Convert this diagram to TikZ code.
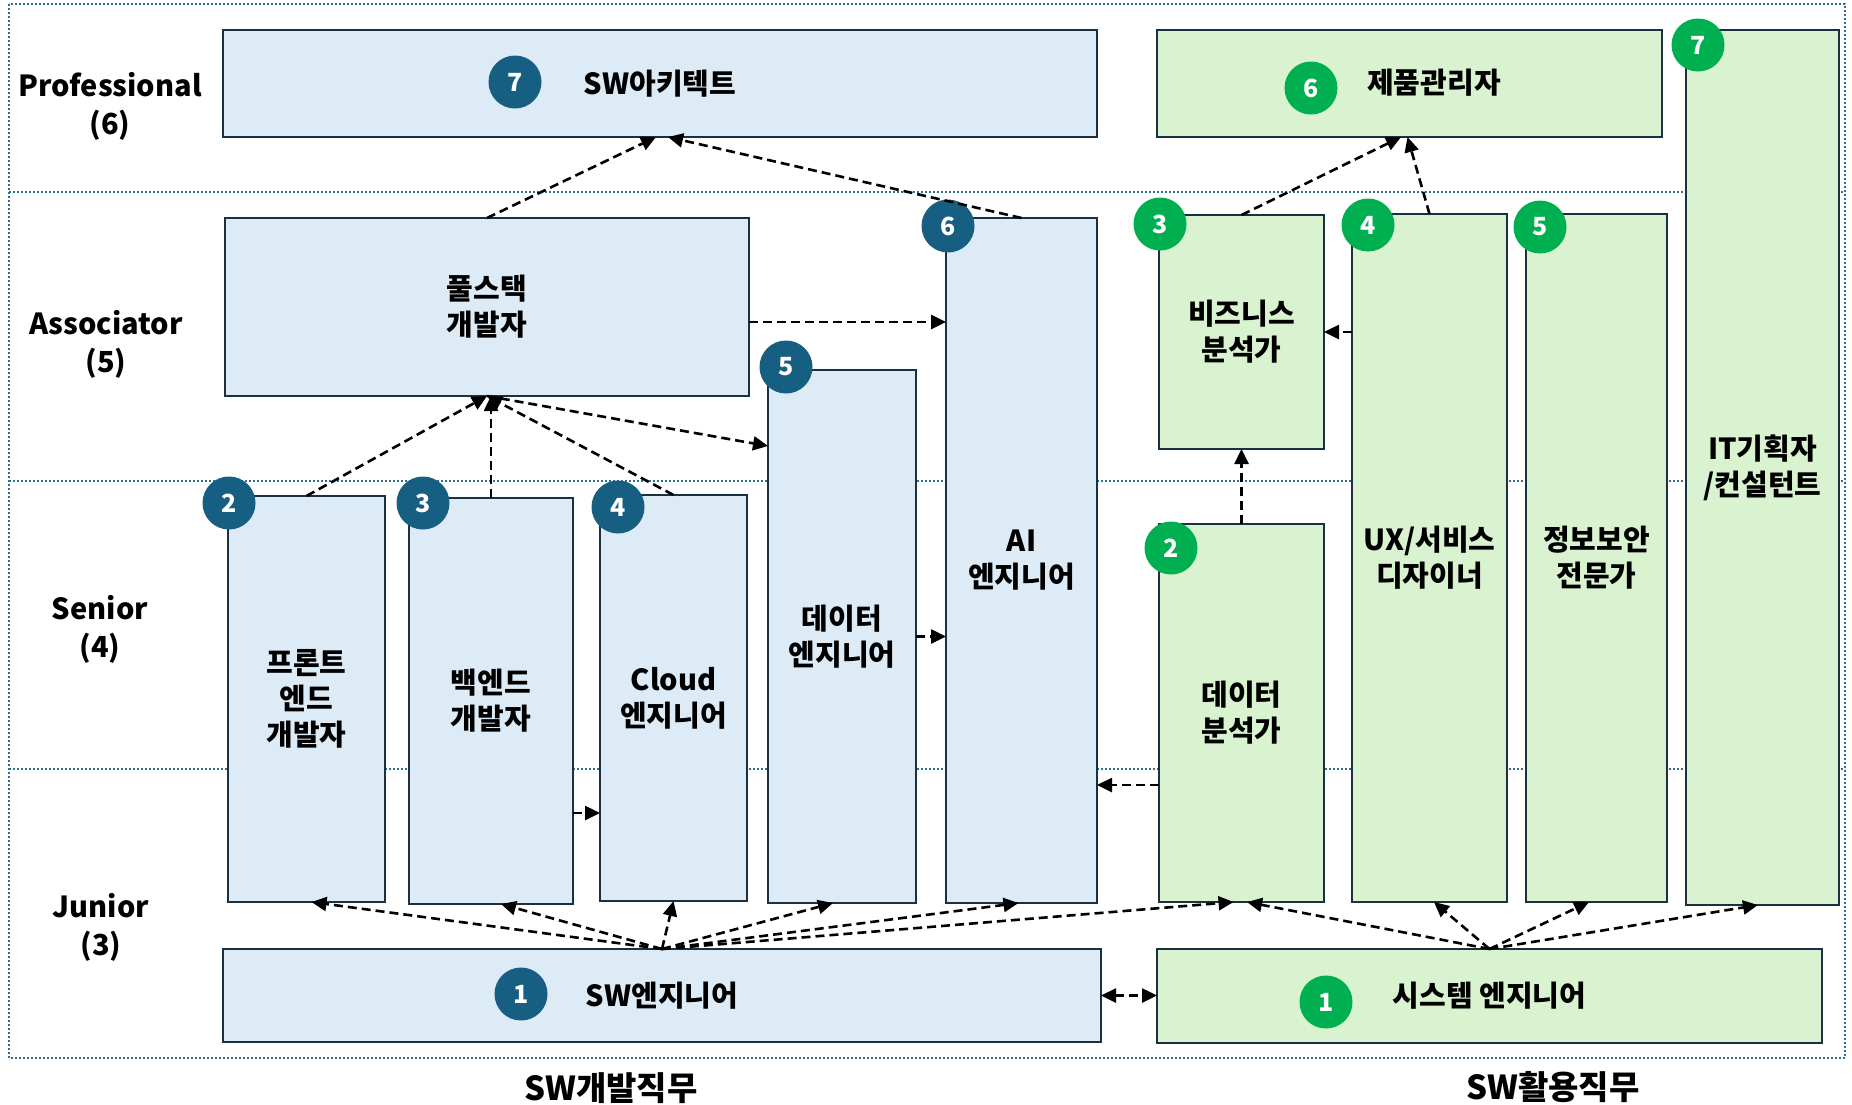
\documentclass[tikz,border=0pt]{standalone}
\usepackage{fontspec}
\setmainfont{Noto Sans CJK KR}
\usetikzlibrary{arrows.meta,calc}
\definecolor{boxblue}{HTML}{DDEBF7}
\definecolor{boxgreen}{HTML}{D9F2D0}
\definecolor{edge}{HTML}{1B3040}
\definecolor{badgeblue}{HTML}{175F82}
\definecolor{badgegreen}{HTML}{00B050}
\definecolor{gridblue}{HTML}{2F6E93}
\begin{document}
\begin{tikzpicture}[x=1pt,y=-1pt,
  bx/.style={draw=edge, line width=2.5pt, outer sep=0pt, inner sep=0pt, anchor=north west, align=center, font=\fontsize{29}{36}\selectfont\bfseries},
  blu/.style={bx, fill=boxblue},
  grn/.style={bx, fill=boxgreen},
  badge/.style={circle, minimum size=53pt, inner sep=0pt, text=white, font=\fontsize{25}{30}\selectfont\bfseries},
  bb/.style={badge, fill=badgeblue},
  bg/.style={badge, fill=badgegreen},
  gridline/.style={draw=gridblue, line width=2pt, dash pattern=on 2pt off 2pt},
  con/.style={draw=black, line width=2.6pt, dash pattern=on 9pt off 5pt, -{Triangle[length=15pt,width=14pt]}},
  biconn/.style={con, {Triangle[length=15pt,width=14pt]}-{Triangle[length=15pt,width=14pt]}},
  lbl/.style={align=center, font=\fontsize{29}{38}\selectfont\bfseries},
  foot/.style={lbl, font=\fontsize{33}{38}\selectfont\bfseries},
]
\useasboundingbox[fill=white] (0,0) rectangle (1852,1104);

% grid
\draw[gridline] (9,4) rectangle (1845,1058);
\draw[gridline] (9,192) -- (1845,192);
\draw[gridline] (9,481) -- (1845,481);
\draw[gridline] (9,769) -- (1845,769);

% row labels
\node[lbl] (prof) at (110,106) {Professional\\(6)};
\node[lbl] (assoc) at (106,344) {Associator\\(5)};
\node[lbl] (senior) at (100,629) {Senior\\(4)};
\node[lbl] (junior) at (101,927) {Junior\\(3)};

% boxes
\node[blu, minimum width=874pt, minimum height=107pt] (arch) at (223,30) {SW아키텍트};
\node[grn, minimum width=505pt, minimum height=107pt] (pm) at (1157,30) {};
\node[lbl] (pmtext) at (1434,83) {제품관리자};
\node[grn, minimum width=153pt, minimum height=875pt] (it) at (1686,30) {IT기획자\\/컨설턴트};
\node[blu, minimum width=524pt, minimum height=178pt] (full) at (225,218) {풀스택\\개발자};
\node[blu, minimum width=151pt, minimum height=685pt] (ai) at (946,218) {AI\\엔지니어};
\node[blu, minimum width=148pt, minimum height=533pt] (de) at (768,370) {데이터\\엔지니어};
\node[grn, minimum width=165pt, minimum height=234pt] (ba) at (1159,215) {비즈니스\\분석가};
\node[grn, minimum width=155pt, minimum height=688pt] (ux) at (1352,214) {UX/서비스\\디자이너};
\node[grn, minimum width=141pt, minimum height=688pt] (sec) at (1526,214) {정보보안\\전문가};
\node[blu, minimum width=157pt, minimum height=406pt] (fe) at (228,496) {프론트\\엔드\\개발자};
\node[blu, minimum width=164pt, minimum height=406pt] (be) at (409,498) {백엔드\\개발자};
\node[blu, minimum width=147pt, minimum height=406pt] (cloud) at (600,495) {Cloud\\엔지니어};
\node[grn, minimum width=165pt, minimum height=378pt] (da) at (1159,524) {데이터\\분석가};
\node[blu, minimum width=878pt, minimum height=93pt] (swe) at (223,949) {SW엔지니어};
\node[grn, minimum width=665pt, minimum height=94pt] (sys) at (1157,949) {시스템 엔지니어};

% badges
\node[bb] (b-arch) at (515,82) {7};
\node[bg] (b-pm) at (1311,88) {6};
\node[bg] (b-it) at (1698,45) {7};
\node[bb] (b-ai) at (948,226) {6};
\node[bb] (b-de) at (786,367) {5};
\node[bg] (b-ba) at (1160,224) {3};
\node[bg] (b-ux) at (1368,225) {4};
\node[bg] (b-sec) at (1540,227) {5};
\node[bb] (b-fe) at (229,503) {2};
\node[bb] (b-be) at (423,503) {3};
\node[bb] (b-cloud) at (618,507) {4};
\node[bg] (b-da) at (1171,548) {2};
\node[bb] (b-swe) at (521,994) {1};
\node[bg] (b-sys) at (1326,1002) {1};

% bottom labels
\node[foot] (devlbl) at (611,1088) {SW개발직무};
\node[foot] (uselbl) at (1553,1087) {SW활용직무};

% connectors
\draw[con] (full.north) -- ([xshift=-4pt]arch.south);
\draw[con] (ai.north) -- ([xshift=8pt]arch.south);
\draw[con] ([yshift=-15pt]full.east) -- ([yshift=-15pt]full.east -| ai.west);
\draw[con] (full.south) -- ([yshift=-76pt]de.north west);
\draw[con] (fe.north) -- (full.south);
\draw[con] (be.north) -- (be.north |- full.south);
\draw[con] (cloud.north) -- (full.south);
\draw[con] (de.east) -- (de.east -| ai.west);
\draw[con] ([yshift=91pt]be.south east) -- ([yshift=91pt]be.south east -| cloud.west);
\draw[con] (da.north) -- (ba.south);
\draw[con] (ba.east -| ux.west) -- (ba.east);
\draw[con] (ba.north) -- ([xshift=-8.5pt]pm.south);
\draw[con] (ux.north) -- ([xshift=-2pt]pm.south);
\draw[con] ([yshift=-72pt]da.west) -- ([yshift=-72pt]da.west -| ai.east);
\draw[biconn] (swe.east) -- (swe.east -| sys.west);

\draw[con] (swe.north) -- ([xshift=5pt]fe.south);
\draw[con] (swe.north) -- ([xshift=10pt]be.south);
\draw[con] (swe.north) -- (cloud.south);
\draw[con] (swe.north) -- ([xshift=-9pt]de.south);
\draw[con] (swe.north) -- ([xshift=-3pt]ai.south);
\draw[con] (swe.north) -- ([xshift=-8pt]da.south);

\draw[con] (sys.north) -- ([xshift=5.5pt]da.south);
\draw[con] (sys.north) -- ([xshift=4.5pt]ux.south);
\draw[con] (sys.north) -- ([xshift=-7.5pt]sec.south);
\draw[con] (sys.north) -- ([xshift=-4.5pt]it.south);
\end{tikzpicture}
\end{document}
